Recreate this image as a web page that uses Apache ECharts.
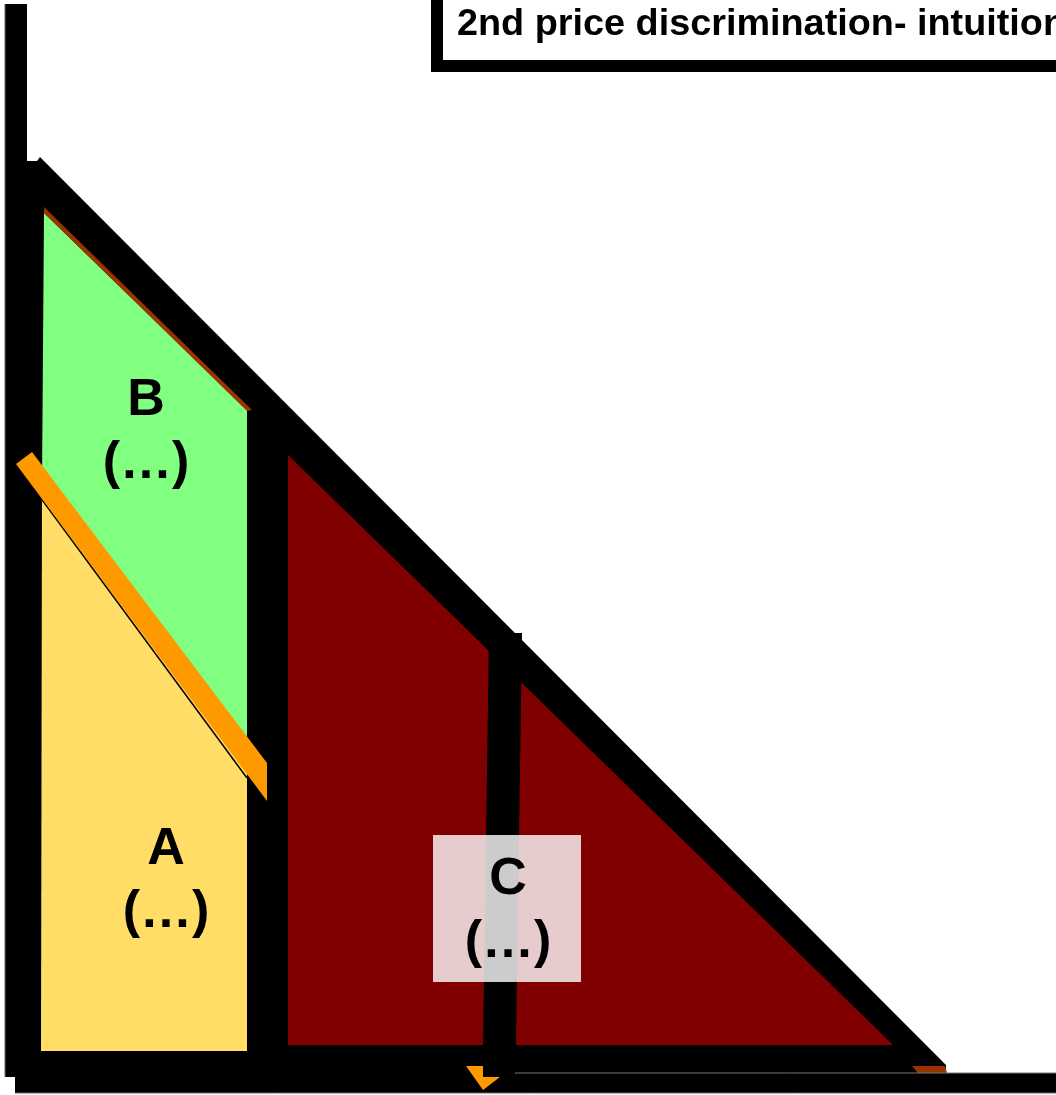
<!DOCTYPE html>
<html><head><meta charset="utf-8">
<script src="https://cdn.jsdelivr.net/npm/echarts@6/dist/echarts.min.js"></script>
<style>html,body{margin:0;padding:0;background:#fff}#c{width:1056px;height:1095px}</style>
</head><body><div id="c"></div>
<script>
// Shapes of the diagram, in picture units (x to the right, y downward)
const axisVertical   = [[5,4],[27,4],[27,1077],[5,1077]];
const axisHorizontal = [[15,1073],[1056,1073],[1056,1093],[15,1093]];
const axisEdges      = [[[5,4],[5,1077]], [[15,1093],[1056,1093]]];
const demandBand     = [[27,161],[37,161],[40,157],[946,1065],[946,1073],[27,1077]];
const areaB          = [[44,213],[247,410],[247,755],[42,482]];
const areaA          = [[42,482],[247,755],[247,1051],[41,1051]];
const areaC          = [[288,455],[893,1045],[288,1045]];
const brownEdge      = [[44,207],[252,410],[247,411],[44,213]];
const orangeLine     = [[16,464],[32,452],[267,763],[267,801]];
const thinLine       = [[40,497],[247,778]];
const priceLineC     = [[489,633],[522,633],[516,1045],[483,1045]];
const brownTip       = [[912,1066],[945,1066],[947,1073],[918,1073]];
const orangeFlag     = [[466,1066],[483,1066],[483,1077],[500,1077],[483,1090]];
const greyEdge       = [[515,1073],[1056,1073]];
const boxC           = [[433,835],[581,982]];
const titleOuter     = [[431,-20],[1090,72]];
const titleInner     = [[443,-20],[1090,60]];
const titleText      = '2nd price discrimination- intuition';
const titleAnchor    = [457,25];
const areaLabels     = ['B\n(…)', 'A\n(…)', 'C\n(…)'];
const labelAnchors   = [[146,432],[166,881],[508,911]];

const chart = echarts.init(document.getElementById('c'), null, {renderer:'canvas'});

function poly(points, fill, z){
  return {type:'custom', coordinateSystem:'cartesian2d', z:z, silent:true, clip:false,
    data:[[0,0]],
    renderItem:function(p, api){
      return {type:'polygon', shape:{points:points.map(function(q){return api.coord(q);})},
        style:{fill:fill}};
    }};
}
function line(points, color, w, z){
  return {type:'custom', coordinateSystem:'cartesian2d', z:z, silent:true, clip:false,
    data:[[0,0]],
    renderItem:function(p, api){
      return {type:'polyline', shape:{points:points.map(function(q){return api.coord(q);})},
        style:{stroke:color, lineWidth:w, fill:null}};
    }};
}
function rect(corners, fill, z){
  return {type:'custom', coordinateSystem:'cartesian2d', z:z, silent:true, clip:false,
    data:[[0,0]],
    renderItem:function(p, api){
      const a = api.coord(corners[0]), b = api.coord(corners[1]);
      return {type:'rect', shape:{x:a[0], y:a[1], width:b[0]-a[0], height:b[1]-a[1]},
        style:{fill:fill}};
    }};
}
const FONT = "'Liberation Sans', Arial, sans-serif";

const series = [
  poly(demandBand, '#000', 1),
  poly(axisVertical, '#000', 2),
  poly(axisHorizontal, '#000', 2),
  line(axisEdges[0], '#666', 1, 2),
  line(axisEdges[1], '#666', 1, 2),
  poly(areaB, '#80FF80', 3),
  poly(areaA, '#FFDD66', 3),
  poly(areaC, '#800000', 3),
  poly(brownEdge, '#993300', 4),
  line(thinLine, '#000', 1.5, 4),
  poly(orangeLine, '#FF9900', 5),
  poly(priceLineC, '#000', 5),
  poly(brownTip, '#993300', 5),
  poly(orangeFlag, '#FF9900', 5),
  line(greyEdge, '#777', 1, 5),
  rect(boxC, 'rgba(255,255,255,0.8)', 6),
  rect(titleOuter, '#000', 6),
  rect(titleInner, '#fff', 7),
  {type:'custom', coordinateSystem:'cartesian2d', z:8, silent:true, clip:false,
    data:areaLabels.map(function(t,i){return [labelAnchors[i][0], labelAnchors[i][1]];}),
    renderItem:function(p, api){
      const c = api.coord([api.value(0), api.value(1)]);
      return {type:'text', x:c[0], y:c[1],
        style:{text:areaLabels[p.dataIndex], fill:'#000', fontFamily:FONT, fontWeight:'bold',
          fontSize:52, lineHeight:63, align:'center', verticalAlign:'middle'}};
    }},
  {type:'custom', coordinateSystem:'cartesian2d', z:9, silent:true, clip:false,
    data:[[titleAnchor[0], titleAnchor[1]]],
    renderItem:function(p, api){
      const c = api.coord([api.value(0), api.value(1)]);
      return {type:'text', x:c[0], y:c[1], scaleX:1.05,
        style:{text:titleText, fill:'#000', fontFamily:FONT, fontWeight:'bold',
          fontSize:36, align:'left', verticalAlign:'middle'}};
    }}
];

chart.setOption({
  animation:false,
  backgroundColor:'#fff',
  grid:{left:0, right:0, top:0, bottom:0},
  xAxis:{type:'value', min:0, max:1056, show:false},
  yAxis:{type:'value', min:0, max:1095, inverse:true, show:false},
  series:series
});
</script></body></html>
